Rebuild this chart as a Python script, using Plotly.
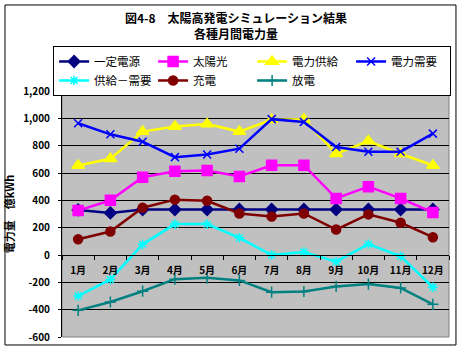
import plotly.graph_objects as go

months = ["1月", "2月", "3月", "4月", "5月", "6月", "7月", "8月", "9月", "10月", "11月", "12月"]
teitei = [330, 308, 333, 333, 333, 333, 333, 333, 333, 333, 333, 333]
taiyoko = [326, 400, 569, 613, 618, 574, 657, 657, 414, 500, 414, 311]
kyokyu = [655, 704, 903, 940, 959, 903, 989, 994, 741, 834, 741, 655]
juyo = [964, 883, 829, 716, 736, 778, 994, 974, 790, 756, 756, 888]
sabun = [-300, -179, 78, 226, 226, 126, 0, 22, -49, 80, -10, -236]
juden = [115, 172, 346, 405, 397, 304, 282, 304, 186, 297, 236, 130]
hoden = [-405, -344, -265, -177, -167, -186, -272, -267, -230, -213, -241, -361]

ytick_vals = [-600, -400, -200, 0, 200, 400, 600, 800, 1000, 1200]
ytick_text = ["-600", "-400", "-200", "0", "200", "400", "600", "800", "1,000", "1,200"]

series = [
    ("一定電源", teitei, "#000080", "diamond", 9),
    ("太陽光", taiyoko, "#FF00FF", "square", 10),
    ("電力供給", kyokyu, "#FFFF00", "triangle-up", 11),
    ("電力需要", juyo, "#0000FF", "x-thin", 8),
    ("供給－需要", sabun, "#00FFFF", "asterisk", 8),
    ("充電", juden, "#800000", "circle", 9),
    ("放電", hoden, "#008080", "cross-thin", 8),
]

FONT = "Noto Sans CJK JP"
fig = go.Figure()
for name, vals, col, sym, size in series:
    fig.add_trace(go.Scatter(
        x=months, y=vals, name=name, mode="lines+markers",
        line=dict(color=col, width=2.5),
        marker=dict(symbol=sym, size=size, color=col, line=dict(color=col, width=1.5)),
    ))

fig.update_layout(
    width=462, height=351,
    margin=dict(l=62, r=13, t=91, b=14, autoexpand=False),
    paper_bgcolor="white", plot_bgcolor="#C0C0C0",
    font=dict(family=FONT, size=10, color="black"),
    showlegend=True,
    legend=dict(orientation="h", x=-0.023, xanchor="left", y=1.183, yanchor="top",
                bordercolor="black", borderwidth=1, bgcolor="white",
                entrywidth=54, entrywidthmode="pixels", tracegroupgap=0,
                font=dict(family=FONT, size=11.5, color="black"),
                itemwidth=30),
    xaxis=dict(anchor="free", position=1/3, showline=True, linecolor="black", linewidth=1,
               ticks="outside", tickson="boundaries", ticklen=4, tickcolor="black",
               ticklabelstandoff=6,
               showgrid=False, tickfont=dict(family=FONT, size=10, color="black", weight="bold"),
               range=[-0.5, 11.5], fixedrange=True),
    yaxis=dict(range=[-600, 1200], tickvals=ytick_vals, ticktext=ytick_text,
               showgrid=True, gridcolor="black", gridwidth=1, zeroline=False,
               showline=True, linecolor="black", linewidth=1,
               ticks="outside", ticklen=3, tickcolor="black", ticklabelstandoff=6,
               tickfont=dict(family=FONT, size=10, color="black", weight="bold"),
               title=dict(text="<b>電力量　億kWh</b>", font=dict(family=FONT, size=11, color="black"),
                          standoff=6)),
    annotations=[
        dict(text="<b>図4-8　太陽高発電シミュレーション結果<br>各種月間電力量</b>",
             xref="paper", yref="paper", x=0.449, y=1.34, xanchor="center", yanchor="top",
             showarrow=False, align="center",
             font=dict(family=FONT, size=12, color="black")),
    ],
    shapes=[
        dict(type="rect", xref="paper", yref="paper", x0=0, x1=1, y0=0, y1=1,
             line=dict(color="#808080", width=1), layer="below"),
        dict(type="rect", xref="paper", yref="paper", x0=-0.1473, x1=1.018, y0=-0.0325, y1=1.3496,
             line=dict(color="black", width=1)),
    ],
)

fig.write_html("out.html")
